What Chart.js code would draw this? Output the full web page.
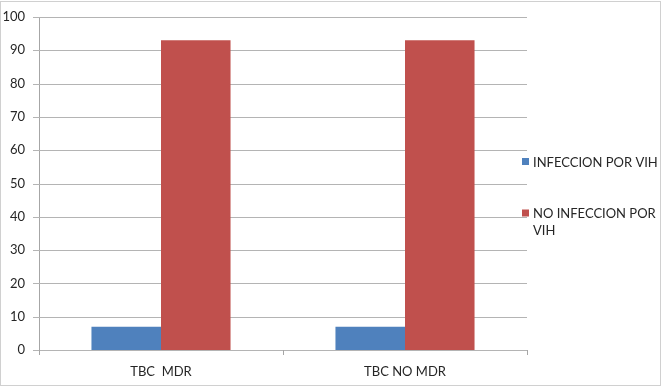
<!DOCTYPE html>
<html>
<head>
<meta charset="utf-8">
<script src="https://cdn.jsdelivr.net/npm/chart.js@4"></script>
<style>
  html, body { margin: 0; padding: 0; background: #fff; }
  #wrap { width: 663px; height: 388px; }
</style>
</head>
<body>
<div id="wrap"><canvas id="tbcChart" width="663" height="388"></canvas></div>
<script>
// Data
const categories = ['TBC  MDR', 'TBC NO MDR'];
const conVih = [7, 7];
const sinVih = [93, 93];
const seriesLabels = [['INFECCION POR VIH'], ['NO INFECCION POR', 'VIH']];
const yTicks = [0, 10, 20, 30, 40, 50, 60, 70, 80, 90, 100];

const FONT = 'Lato, "Open Sans", sans-serif';
const TEXT = '#262626';
const AXIS = '#a6a6a6';

// Outer frame round the whole chart
const framePlugin = {
    id: 'frame',
    afterDraw(chart) {
        const ctx = chart.ctx;
        ctx.save();
        ctx.strokeStyle = '#d0d0d0';
        ctx.lineWidth = 1;
        ctx.strokeRect(0.5, 1.5, 660, 384);
        ctx.restore();
    }
};

// Horizontal gridlines (with small ticks left of the axis) and x tick marks
const gridPlugin = {
    id: 'gridLines',
    beforeDatasetsDraw(chart) {
        const ctx = chart.ctx;
        const area = chart.chartArea;
        const ys = chart.scales.y;
        const xs = chart.scales.x;
        ctx.save();
        ctx.lineWidth = 1;
        ctx.strokeStyle = '#b4b4b4';
        ctx.beginPath();
        yTicks.forEach(v => {
            const y = Math.round(ys.getPixelForValue(v)) + 0.5;
            ctx.moveTo(area.left - 6, y);
            ctx.lineTo(area.right, y);
        });
        ctx.stroke();
        ctx.strokeStyle = AXIS;
        ctx.beginPath();
        for (let i = 0; i <= categories.length; i++) {
            const x = Math.round(xs.getPixelForValue(i - 0.5)) + 0.5;
            ctx.moveTo(x, area.bottom);
            ctx.lineTo(x, area.bottom + 5);
        }
        ctx.stroke();
        ctx.restore();
    }
};

// Legend on the right, with the second label wrapped like the original
const sideLegend = {
    id: 'sideLegend',
    afterDraw(chart) {
        const ctx = chart.ctx;
        const rows = [161.5, 213];
        ctx.save();
        ctx.font = '13px ' + FONT;
        ctx.textBaseline = 'middle';
        chart.data.datasets.forEach((ds, i) => {
            const y = rows[i];
            ctx.fillStyle = ds.backgroundColor;
            ctx.fillRect(522, y - 3.5, 7, 7);
            ctx.fillStyle = TEXT;
            seriesLabels[i].forEach((line, j) => {
                ctx.fillText(line, 533, y + 1 + j * 17);
            });
        });
        ctx.restore();
    }
};

const ctx = document.getElementById('tbcChart').getContext('2d');
const tbcChart = new Chart(ctx, {
    type: 'bar',
    data: {
        labels: categories,
        datasets: [{
            label: 'INFECCION POR VIH',
            data: conVih,
            backgroundColor: '#4F81BD'
        }, {
            label: 'NO INFECCION POR VIH',
            data: sinVih,
            backgroundColor: '#C0504D'
        }]
    },
    options: {
        responsive: false,
        animation: false,
        layout: {
            padding: { left: 0, top: 17, right: 136, bottom: 0 }
        },
        plugins: {
            legend: { display: false },
            tooltip: { enabled: false }
        },
        datasets: {
            bar: {
                categoryPercentage: 0.57,
                barPercentage: 1.0
            }
        },
        scales: {
            x: {
                afterFit(scale) { scale.height = 38; },
                grid: { display: false },
                border: { color: AXIS },
                ticks: {
                    color: TEXT,
                    padding: 6,
                    font: { family: FONT, size: 13 }
                }
            },
            y: {
                min: 0,
                max: 100,
                afterFit(scale) { scale.width = 39; },
                afterBuildTicks(scale) {
                    scale.ticks = yTicks.map(v => ({ value: v }));
                },
                grid: { display: false },
                border: { color: AXIS },
                ticks: {
                    color: TEXT,
                    padding: 6,
                    font: { family: FONT, size: 13 }
                }
            }
        }
    },
    plugins: [framePlugin, gridPlugin, sideLegend]
});
</script>
</body>
</html>
